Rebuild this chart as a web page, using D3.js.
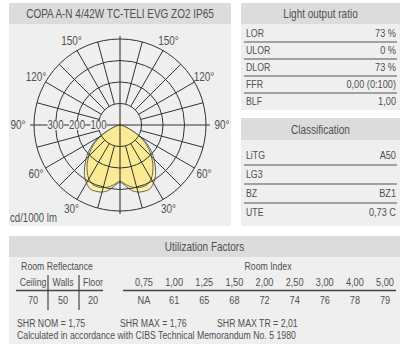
<!DOCTYPE html>
<html>
<head>
<meta charset="utf-8">
<script src="https://cdn.jsdelivr.net/npm/d3@7/dist/d3.min.js"></script>
<style>
  html, body { margin: 0; padding: 0; background: #fff; }
  svg { display: block; }
  text { font-family: "Liberation Sans", Arial, sans-serif; fill: #505050; }
</style>
</head>
<body>
<svg id="sheet" width="402" height="344"></svg>
<script>
// Luminaire identification
const luminaireName = "COPA A-N 4/42W TC-TELI EVG ZO2 IP65";

// Luminous intensity distribution (cd/1000 lm) per gamma angle
const gammaAngles = [0, 5, 10, 15, 20, 25, 30, 35, 40, 45, 50, 55, 60, 65, 70, 75, 80, 85, 90];
const planeC0C180 = [267, 284, 309, 323, 328, 328, 312, 288, 256, 223, 191, 153, 112, 65, 33, 14, 5, 2, 0];
const planeC90C270 = [262, 276, 292, 302, 306, 304, 290, 266, 238, 206, 176, 142, 104, 60, 30, 13, 5, 2, 0];

// Polar grid
const ringValues = [100, 200, 300, 400];
const ringLabels = ["100", "200", "300"];
const angleLabels = [30, 60, 90, 120, 150];
const unitLabel = "cd/1000 lm";

// Light output ratio
const lorLabels = ["LOR", "ULOR", "DLOR", "FFR", "BLF"];
const lorValues = ["73 %", "0 %", "73 %", "0,00 (0:100)", "1,00"];

// Classification
const classLabels = ["LiTG", "LG3", "BZ", "UTE"];
const classValues = ["A50", "", "BZ1", "0,73 C"];

// Utilization factors
const reflectanceLabels = ["Ceiling", "Walls", "Floor"];
const reflectanceValues = ["70", "50", "20"];
const roomIndexLabels = ["0,75", "1,00", "1,25", "1,50", "2,00", "2,50", "3,00", "4,00", "5,00"];
const utilizationValues = ["NA", "61", "65", "68", "72", "74", "76", "78", "79"];
const shrLabels = ["SHR NOM = 1,75", "SHR MAX = 1,76", "SHR MAX TR = 2,01"];
const footnote = "Calculated in accordance with CIBS Technical Memorandum No. 5 1980";

const svg = d3.select("#sheet");
const panelFill = "#efefef";
const headFill = "#dcdcdc";
const ink = "#333";
const body = 11.5;

// condensed text helper: a horizontal squeeze gives a condensed face
function label(g, x, y, str, anchor = "start", size = body, squeeze = 0.76) {
  return g.append("text")
    .attr("transform", `translate(${x},${y}) scale(${squeeze},1)`)
    .attr("text-anchor", anchor).attr("font-size", size).text(str);
}

function panel(x, y, w, h, headH, title, titleY) {
  const g = svg.append("g");
  g.append("rect").attr("x", x).attr("y", y).attr("width", w).attr("height", h).attr("fill", panelFill);
  g.append("rect").attr("x", x).attr("y", y).attr("width", w).attr("height", headH).attr("fill", headFill);
  label(g, x + w / 2, titleY, title, "middle", 12.5, 0.8);
  return g;
}

// ---------- Polar diagram ----------
panel(9, 3, 222, 223, 21, luminaireName, 18);

const cx = 120, cy = 125;
const r = d3.scaleLinear().domain([0, 400]).range([0, 86]);
const polar = svg.append("g").attr("transform", `translate(${cx},${cy})`);

// intensity curves: left half (C180 / C270) then right half (C0 / C90)
function curvePoints(values) {
  const pts = [];
  for (let i = gammaAngles.length - 1; i >= 0; i--) pts.push([Math.PI + gammaAngles[i] * Math.PI / 180, r(values[i])]);
  for (let i = 1; i < gammaAngles.length; i++) pts.push([Math.PI - gammaAngles[i] * Math.PI / 180, r(values[i])]);
  return pts;
}
const radial = d3.lineRadial().curve(d3.curveCatmullRom.alpha(0.5));

polar.append("path").attr("d", radial(curvePoints(planeC0C180)))
  .attr("fill", "#fdf1a4").attr("stroke", "#555").attr("stroke-width", 0.9);
polar.append("path").attr("d", radial(curvePoints(planeC90C270)))
  .attr("fill", "#fbeb94").attr("stroke", "#555").attr("stroke-width", 0.9);

// rings
polar.selectAll("circle.ring").data(ringValues).join("circle")
  .attr("class", "ring").attr("r", d => r(d))
  .attr("fill", "none").attr("stroke", ink).attr("stroke-width", 1);

// spokes every 15 degrees, from the first ring outwards
const spokes = d3.range(0, 360, 15).filter(a => a % 90 !== 0);
polar.selectAll("line.spoke").data(spokes).join("line")
  .attr("class", "spoke")
  .attr("x1", a => r(100) * Math.sin(a * Math.PI / 180))
  .attr("y1", a => -r(100) * Math.cos(a * Math.PI / 180))
  .attr("x2", a => r(400) * Math.sin(a * Math.PI / 180))
  .attr("y2", a => -r(400) * Math.cos(a * Math.PI / 180))
  .attr("stroke", ink).attr("stroke-width", 1);

// main axes
const ext = r(400) + 3;
polar.append("line").attr("x1", -ext - 1).attr("x2", ext + 1).attr("y1", 0).attr("y2", 0)
  .attr("stroke", ink).attr("stroke-width", 1.1);
polar.append("line").attr("x1", 0).attr("x2", 0).attr("y1", -ext).attr("y2", ext)
  .attr("stroke", ink).attr("stroke-width", 1.1);

// ring value labels on the left axis
const rl = polar.selectAll("g.rl").data(ringLabels).join("g").attr("class", "rl")
  .attr("transform", d => `translate(${-r(+d)},0)`);
rl.append("rect").attr("x", -8).attr("y", -5).attr("width", 16).attr("height", 10).attr("fill", panelFill);
rl.each(function (d) { label(d3.select(this), 0, 4.2, d, "middle", 12, 0.8); });

// angle labels on both sides
angleLabels.forEach(a => {
  [-1, 1].forEach(side => {
    const rad = a === 90 ? 102 : 97;
    label(polar, side * rad * Math.sin(a * Math.PI / 180), rad * Math.cos(a * Math.PI / 180) + 4.3,
      a + "°", "middle", 12.5, 0.8);
  });
});

label(svg, 10, 222, unitLabel, "start", 12, 0.8);

// ---------- Key-value tables ----------
function table(x, w, firstY, step, labels, values) {
  const g = svg.append("g");
  labels.forEach((lab, i) => {
    const y = firstY + i * step;
    label(g, x + 5, y + 4, lab);
    label(g, x + w - 4, y + 4, values[i], "end", body, 0.8);
    if (i < labels.length - 1) {
      g.append("line").attr("x1", x + 3).attr("x2", x + w - 3)
        .attr("y1", y + step / 2 + 0.5).attr("y2", y + step / 2 + 0.5)
        .attr("stroke", "#555").attr("stroke-width", 1.2);
    }
  });
}

panel(241, 3, 159, 107, 21, "Light output ratio", 18);
table(241, 159, 33, 17, lorLabels, lorValues);

panel(241, 118, 159, 108, 22, "Classification", 134);
table(241, 159, 155, 19, classLabels, classValues);

// ---------- Utilization factors ----------
panel(9, 236, 391, 108, 21, "Utilization Factors", 251);

const uf = svg.append("g");
label(uf, 57, 270, "Room Reflectance", "middle");

const reflX = d3.scalePoint().domain(reflectanceLabels).range([33, 93]);
reflectanceLabels.forEach((d, i) => {
  label(uf, reflX(d), 286, d, "middle");
  label(uf, reflX(d), 304, reflectanceValues[i], "middle", body, 0.8);
});
uf.append("line").attr("x1", 16).attr("x2", 103).attr("y1", 290.5).attr("y2", 290.5).attr("stroke", "#444").attr("stroke-width", 1.4);
[48, 79].forEach(x => uf.append("line").attr("x1", x).attr("x2", x).attr("y1", 275).attr("y2", 310)
  .attr("stroke", "#444").attr("stroke-width", 1.2));

label(uf, 268, 270, "Room Index", "middle");
const riX = d3.scalePoint().domain(roomIndexLabels).range([144, 385]);
roomIndexLabels.forEach((d, i) => {
  label(uf, riX(d), 286, d, "middle", body, 0.8);
  label(uf, riX(d), 304, utilizationValues[i], "middle", body, 0.8);
});
uf.append("line").attr("x1", 123).attr("x2", 396).attr("y1", 290.5).attr("y2", 290.5).attr("stroke", "#444").attr("stroke-width", 1.4);

const shrX = [17, 120, 217];
shrLabels.forEach((s, i) => label(uf, shrX[i], 327, s));
label(uf, 17, 339, footnote);
</script>
</body>
</html>
